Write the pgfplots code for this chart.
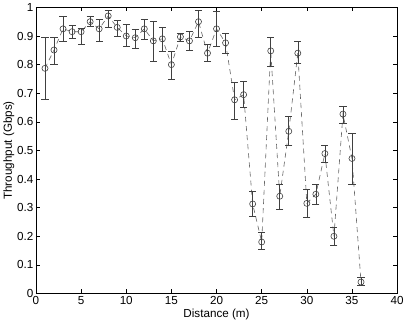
\documentclass[border=0pt]{standalone}
\usepackage{pgfplots}
\pgfplotsset{compat=1.18}
\usepackage{fontspec}
\setmainfont{Liberation Sans}
\begin{document}
\begin{tikzpicture}[x=1pt,y=1pt]
\begin{axis}[
  scale only axis,
  width=356pt, height=282pt,
  xmin=0, xmax=40, ymin=0, ymax=1,
  xtick={0,5,...,40},
  ytick={0,0.1,...,1.0},
  yticklabels={0,0.1,0.2,0.3,0.4,0.5,0.6,0.7,0.8,0.9,1},
  tick align=inside,
  major tick length=4pt,
  axis line style={black, line width=0.6pt},
  every tick/.style={black, line width=0.6pt},
  /pgf/number format/assume math mode=true,
  tick label style={font=\fontsize{11.5}{13}\selectfont},
  label style={font=\fontsize{11.5}{13}\selectfont},
  xticklabel style={yshift=1pt},
  yticklabel style={xshift=1pt},
  xlabel={Distance (m)},
  ylabel={Throughput (Gbps)},
  xlabel style={yshift=2pt},
  ylabel style={yshift=-4pt},
  clip=false,
]
\addplot+[
  color=black!60, dashed, dash pattern=on 5pt off 4pt, line width=0.6pt,
  mark=o, mark size=3pt, mark options={solid, black!75, line width=0.6pt},
  error bars/.cd, y dir=both, y explicit,
  error bar style={solid, black!75, line width=0.6pt},
  error mark options={rotate=90, mark size=3.5pt, black!75, line width=0.6pt},
] table[x=x, y=y, y error plus=ep, y error minus=em] {
x y ep em
1 0.787 0.107 0.110
2 0.851 0.046 0.051
3 0.925 0.045 0.045
4 0.915 0.021 0.022
5 0.915 0.012 0.045
6 0.950 0.020 0.017
7 0.925 0.035 0.045
8 0.970 0.020 0.040
9 0.930 0.024 0.030
10 0.900 0.040 0.035
11 0.894 0.031 0.036
12 0.925 0.032 0.035
13 0.883 0.067 0.073
14 0.890 0.040 0.042
15 0.800 0.047 0.050
16 0.897 0.013 0.017
17 0.883 0.032 0.033
18 0.950 0.040 0.053
19 0.840 0.030 0.030
20 0.925 0.061 0.060
21 0.876 0.034 0.036
22 0.677 0.060 0.067
23 0.695 0.045 0.045
24 0.313 0.044 0.043
25 0.180 0.033 0.027
26 0.848 0.049 0.054
27 0.340 0.043 0.046
28 0.567 0.053 0.050
29 0.840 0.040 0.035
30 0.315 0.050 0.049
31 0.347 0.036 0.037
32 0.489 0.029 0.029
33 0.200 0.030 0.030
34 0.627 0.028 0.032
35 0.472 0.088 0.089
36 0.040 0.015 0.010
};
\end{axis}
\end{tikzpicture}
\end{document}
